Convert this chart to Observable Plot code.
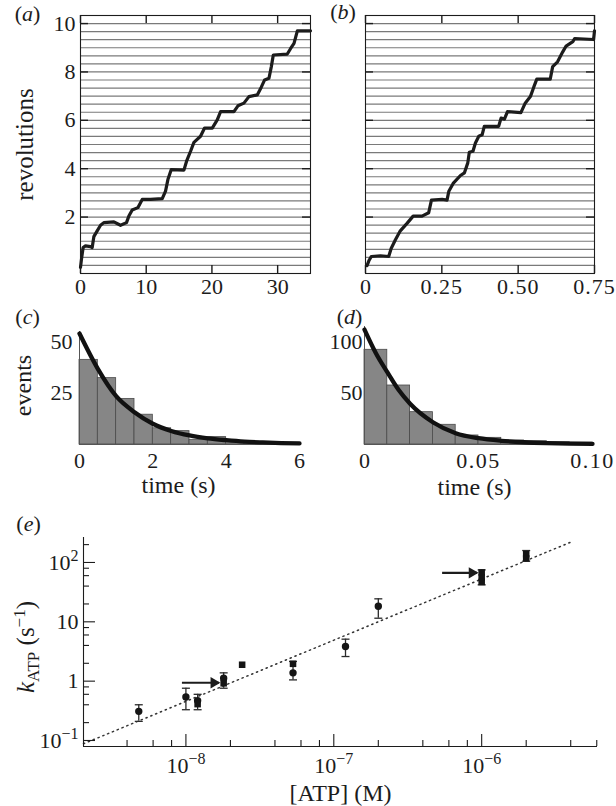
<!DOCTYPE html>
<html>
<head>
<meta charset="utf-8">
<script src="https://cdn.jsdelivr.net/npm/d3@7"></script>
<script src="https://cdn.jsdelivr.net/npm/@observablehq/plot@0.6"></script>
<style>
  html, body { margin: 0; padding: 0; background: #fff; }
  #fig { position: relative; width: 616px; height: 806px; overflow: hidden; background: #fff; }
</style>
</head>
<body>
<div id="fig"></div>
<script>
// ---------- Panel (a): rotation trace, low ATP ----------
const aTime = [0,0.15,0.4,0.76,1.52,1.78,2.03,2.54,3.05,3.55,5.08,6.09,7.0,7.36,7.87,8.73,9.39,10.66,12.44,12.94,13.3,13.8,15.74,16.14,16.75,17.26,18.27,18.88,20.05,20.81,21.32,23.35,23.96,24.87,25.63,26.9,27.51,28.02,28.68,29.04,29.34,31.47,31.98,32.49,33.0,35.0];
const aRev  = [-0.08,0.26,0.74,0.81,0.78,0.74,1.19,1.43,1.66,1.77,1.80,1.66,1.77,2.04,2.29,2.39,2.73,2.73,2.76,3.07,3.55,3.96,3.94,4.31,4.72,5.09,5.34,5.68,5.68,6.02,6.36,6.36,6.60,6.71,6.98,7.05,7.37,7.67,7.74,8.22,8.70,8.74,8.97,9.18,9.70,9.70];
const aXTicks = [0,10,20,30];

// ---------- Panel (b): rotation trace, higher ATP ----------
const bTime = [0.005,0.011,0.019,0.049,0.076,0.084,0.098,0.114,0.136,0.156,0.185,0.207,0.216,0.251,0.267,0.273,0.287,0.311,0.324,0.335,0.340,0.352,0.360,0.371,0.382,0.389,0.436,0.444,0.455,0.465,0.509,0.523,0.540,0.551,0.561,0.605,0.613,0.629,0.646,0.657,0.679,0.685,0.747,0.75];
const bRev  = [-0.01,0.19,0.37,0.40,0.37,0.70,1.06,1.43,1.74,2.04,2.04,2.18,2.70,2.73,2.70,3.07,3.39,3.72,3.83,4.24,4.68,4.72,5.06,5.34,5.40,5.75,5.75,6.09,6.05,6.36,6.32,6.71,6.98,7.37,7.70,7.70,8.22,8.42,8.83,9.07,9.25,9.38,9.34,9.70];
const bXTicks = [0,0.25,0.5,0.75];

const revTicks = [2,4,6,8,10];

// ---------- Panel (c): dwell-time histogram ----------
const cEdges  = [0,0.5,1,1.5,2,2.5,3,3.5,4,4.5,5,5.5,6];
const cCounts = [41.2,32.3,22.2,14.5,7.9,6.5,2.3,3.6,1.6,1.1,0.6,0.5];
const cFitT   = [0,0.5,1,1.5,2,2.5,3,3.5,4,4.5,5,5.5,6];
const cFitN   = [54,36.8,23.5,15.7,10.1,6.6,4.4,3.0,2.1,1.4,1.0,0.7,0.5];
const cXTicks = [0,2,4,6];
const cYTicks = [25,50];

// ---------- Panel (d): dwell-time histogram ----------
const dEdges  = [0,0.01,0.02,0.03,0.04,0.05,0.06,0.07,0.08,0.09,0.1];
const dCounts = [92.3,57.5,31.5,19.2,8.8,6.5,3.9,3.2,2.2,1.8];
const dFitT   = [0,0.005,0.01,0.015,0.02,0.03,0.04,0.05,0.06,0.07,0.08,0.09,0.1];
const dFitN   = [112,89,70.5,53,39.7,21.7,11,6.1,3.6,2.2,1.4,0.9,0.6];
const dXTicks = [0,0.05,0.1];
const dYTicks = [50,100];

// ---------- Panel (e): k_ATP vs [ATP] ----------
const atpConc = [4.8e-9,1.0e-8,1.2e-8,1.2e-8,1.8e-8,1.8e-8,2.4e-8,5.3e-8,5.3e-8,1.2e-7,2.0e-7,1.0e-6,1.0e-6,1.0e-6,2.0e-6,2.0e-6];
const kATP    = [0.31,0.54,0.47,0.41,1.12,0.92,1.89,1.96,1.38,3.84,18.3,68,56,47,138,117];
const kShape  = ["circle","circle","circle","square","circle","square","square","square","circle","circle","circle","square","square","square","square","square"];
const errConc = [4.8e-9,1.0e-8,1.2e-8,1.8e-8,5.3e-8,1.2e-7,2.0e-7,1.0e-6,2.0e-6];
const errLo   = [0.21,0.33,0.33,0.76,1.05,2.6,11.5,42,105];
const errHi   = [0.40,0.76,0.60,1.38,2.15,5.1,24.4,75,159];
const fitConc = [2.03e-9,4.0e-6];
const fitK    = [0.088,220];
const arrowFrom = [9.4e-9,5.4e-7];
const arrowTo   = [1.67e-8,9.3e-7];
const arrowK    = [0.94,67];
const eXMajor = [1e-8,1e-7,1e-6];
const eYMajor = [0.1,1,10,100];

// ---------- helpers ----------
const FONT = '"Liberation Serif", "Times New Roman", Times, serif';
const INK = "#1c1c1c";
const SVGNS = "http://www.w3.org/2000/svg";
const TITLE = 25;
const TICK = 22;
const fig = document.getElementById("fig");
const baseStyle = {fontFamily: FONT, fontSize: TICK + "px", background: "transparent", overflow: "visible", color: INK};

function place(svg, left, top) {
  svg.style.position = "absolute";
  svg.style.left = left + "px";
  svg.style.top = top + "px";
  svg.style.maxWidth = "none";
  fig.appendChild(svg);
  return svg;
}
function rich(el, parts) {
  while (el.firstChild) el.removeChild(el.firstChild);
  for (const p of parts) {
    const ts = document.createElementNS(SVGNS, "tspan");
    ts.textContent = p.t;
    if (p.italic) ts.setAttribute("font-style", "italic");
    if (p.size) ts.setAttribute("font-size", p.size);
    if (p.dy) ts.setAttribute("dy", p.dy);
    el.appendChild(ts);
  }
}
function polish(svg, decimalSpacing) {
  svg.querySelectorAll("text").forEach(el => {
    const s = el.textContent;
    let m;
    if ((m = s.match(/^\(([a-e])\)$/))) {
      rich(el, [{t: "("}, {t: m[1], italic: true}, {t: ")"}]);
    } else if ((m = s.match(/^(\d+)\^(-?\d+)$/))) {
      rich(el, [{t: m[1]}, {t: m[2].replace("-", "\u2212"), size: "16", dy: "-9"}]);
    } else if (s === "kATP (s-1)") {
      rich(el, [{t: "k", italic: true}, {t: "ATP", size: "17", dy: "5"}, {t: " (s", dy: "-5"},
                {t: "\u22121", size: "17", dy: "-9"}, {t: ")", dy: "9"}]);
    } else if (decimalSpacing && /^\d\.\d\d$/.test(s)) {
      el.style.letterSpacing = decimalSpacing;
    }
  });
}
const revGrid = d3.range(-1, 32).map(i => i / 3); // guide lines every 120° step
const revDomain = [-1/3, 31/3];

function tracePanel(o) {
  const iw = o.width - o.ml - o.mr, ih = o.height - o.mt - o.mb;
  const pts = o.time.map((t, i) => ({t, r: o.rev[i]}));
  const marks = [
    Plot.ruleY(revGrid, {stroke: "#7a7a7a", strokeWidth: 1.15}),
    Plot.line(pts, {x: "t", y: "r", stroke: INK, strokeWidth: 3.2, strokeLinejoin: "round", strokeLinecap: "round"}),
    Plot.frame({stroke: INK, strokeWidth: 1.1}),
    Plot.ruleY(revTicks, {insetRight: iw - 8, stroke: INK, strokeWidth: 1.4}),
    Plot.ruleY(revTicks, {insetLeft: iw - 8, stroke: INK, strokeWidth: 1.4}),
    Plot.ruleX(o.xTicks, {insetTop: ih - 8, stroke: INK, strokeWidth: 1.4}),
    Plot.ruleX(o.xTicks, {insetBottom: ih - 8, stroke: INK, strokeWidth: 1.4}),
    Plot.axisX({ticks: o.xTicks, tickFormat: o.xFormat, tickSize: 0, tickPadding: 5, label: null, fontSize: TICK, fill: INK}),
    Plot.text([o.letter], {text: d => d, frameAnchor: "top-left", textAnchor: "middle", lineAnchor: "middle", dx: o.ldx, dy: o.ldy, fontSize: TICK, fill: INK})
  ];
  if (o.yTitle) {
    marks.push(Plot.axisY({ticks: revTicks, tickSize: 0, tickPadding: 5, label: null, fontSize: TICK, fill: INK}));
    marks.push(Plot.text([o.yTitle], {text: d => d, frameAnchor: "left", textAnchor: "middle", lineAnchor: "middle", rotate: -90, dx: -56, fontSize: TITLE, fill: INK}));
  }
  const yOpts = {domain: revDomain};
  if (!o.yTitle) yOpts.axis = null;
  const svg = Plot.plot({
    width: o.width, height: o.height,
    marginLeft: o.ml, marginRight: o.mr, marginTop: o.mt, marginBottom: o.mb,
    style: baseStyle,
    x: {domain: o.xDomain},
    y: yOpts,
    marks
  });
  polish(svg, o.spacing);
  return place(svg, o.left, o.top);
}

function histPanel(o) {
  const bins = o.counts.map((n, i) => ({x1: o.edges[i], x2: o.edges[i + 1], n}));
  const fit = o.fitT.map((t, i) => ({t, n: o.fitN[i]}));
  const marks = [
    Plot.rectY(bins, {x1: "x1", x2: "x2", y: "n", fill: "#868686", stroke: "#4a4a4a", strokeWidth: 0.8}),
    Plot.ruleY([0], {stroke: "#555", strokeWidth: 1}),
    Plot.ruleX([0], {stroke: "#555", strokeWidth: 1}),
    Plot.line(fit, {x: "t", y: "n", stroke: "#111", strokeWidth: 4.3, curve: "monotone-x"}),
    Plot.axisX({ticks: o.xTicks, tickFormat: o.xFormat, tickSize: 0, tickPadding: 8, label: null, fontSize: TICK, fill: INK}),
    Plot.axisY({ticks: o.yTicks, tickSize: 0, tickPadding: o.ytp, label: null, fontSize: TICK, fill: INK}),
    Plot.text(["time (s)"], {text: d => d, frameAnchor: "bottom", textAnchor: "middle", lineAnchor: "middle", dx: o.tdx, dy: o.tdy, fontSize: TITLE - 1, fill: INK}),
    Plot.text([o.letter], {text: d => d, frameAnchor: "top-left", textAnchor: "middle", lineAnchor: "middle", dx: o.ldx, dy: o.ldy, fontSize: TICK, fill: INK})
  ];
  if (o.yTitle) marks.push(Plot.text([o.yTitle], {text: d => d, frameAnchor: "left", textAnchor: "middle", lineAnchor: "middle", rotate: -90, dx: -56, dy: -2.5, fontSize: TITLE - 1, fill: INK}));
  const svg = Plot.plot({
    width: o.width, height: o.height,
    marginLeft: o.ml, marginRight: o.mr, marginTop: o.mt, marginBottom: o.mb,
    style: baseStyle,
    x: {domain: o.xDomain},
    y: {domain: o.yDomain},
    marks
  });
  polish(svg, o.spacing);
  return place(svg, o.left, o.top);
}

// ---------- draw (a) and (b) ----------
tracePanel({time: aTime, rev: aRev, xDomain: [0, 35], xTicks: aXTicks, xFormat: d => String(d),
  width: 316, height: 300, ml: 80, mr: 6, mt: 15, mb: 27, left: 0, top: 0,
  letter: "(a)", ldx: -53, ldy: -2, yTitle: "revolutions", spacing: null});
tracePanel({time: bTime, rev: bRev, xDomain: [0, 0.75], xTicks: bXTicks, xFormat: d => d === 0 ? "0" : d.toFixed(2),
  width: 300, height: 300, ml: 49, mr: 22, mt: 15, mb: 27, left: 316, top: 0,
  letter: "(b)", ldx: -22.5, ldy: -4, yTitle: null, spacing: "1px"});

// ---------- draw (c) and (d) ----------
histPanel({edges: cEdges, counts: cCounts, fitT: cFitT, fitN: cFitN, xTicks: cXTicks, yTicks: cYTicks,
  xFormat: d => String(d), xDomain: [0, 6], yDomain: [0, 55],
  width: 316, height: 200, ml: 79, mr: 17, mt: 31, mb: 56, left: 0, top: 300, ytp: 7,
  tdx: -11, tdy: 41, letter: "(c)", ldx: -52, ldy: -15, yTitle: "events", spacing: null});
histPanel({edges: dEdges, counts: dCounts, fitT: dFitT, fitN: dFitN, xTicks: dXTicks, yTicks: dYTicks,
  xFormat: d => d === 0 ? "0" : d.toFixed(2), xDomain: [0, 0.1], yDomain: [0, 115],
  width: 300, height: 200, ml: 48, mr: 24, mt: 26, mb: 56, left: 316, top: 300, ytp: 2,
  tdx: -4, tdy: 43, letter: "(d)", ldx: -15, ldy: -10, yTitle: null, spacing: "1.5px"});

// ---------- draw (e) ----------
(function () {
  const W = 616, H = 306, ML = 83, MR = 19, MT = 37, MB = 60;
  const iw = W - ML - MR, ih = H - MT - MB;
  const xDomain = [2.03e-9, 6.07e-6], yDomain = [0.0792, 263.6];
  const mult = [2, 4, 6, 8];
  const xMinor = [1e-9, 1e-8, 1e-7, 1e-6].flatMap(d => mult.map(m => m * d)).filter(v => v > xDomain[0] * 1.02 && v < xDomain[1]);
  const yMinor = [0.1, 1, 10, 100].flatMap(d => mult.map(m => m * d)).filter(v => v > yDomain[0] * 1.05 && v < yDomain[1]);
  const pts = atpConc.map((c, i) => ({c, k: kATP[i], s: kShape[i]}));
  const errs = errConc.map((c, i) => ({c, lo: errLo[i], hi: errHi[i]}));
  const fit = fitConc.map((c, i) => ({c, k: fitK[i]}));
  const arrows = arrowFrom.map((x1, i) => ({x1, x2: arrowTo[i], k: arrowK[i]}));
  const cap = {draw(ctx, size) { const w = Math.sqrt(size / Math.PI); ctx.moveTo(-w, 0); ctx.lineTo(w, 0); }};
  const xFmt = d => "10^" + Math.round(Math.log10(d));
  const yFmt = d => d === 1 ? "1" : d === 10 ? "10" : "10^" + Math.round(Math.log10(d));
  const svg = Plot.plot({
    width: W, height: H, marginLeft: ML, marginRight: MR, marginTop: MT, marginBottom: MB,
    style: baseStyle,
    x: {type: "log", domain: xDomain},
    y: {type: "log", domain: yDomain},
    marks: [
      Plot.line(fit, {x: "c", y: "k", stroke: "#333", strokeWidth: 1.5, strokeDasharray: "1.3 3.9"}),
      Plot.ruleX(errs, {x: "c", y1: "lo", y2: "hi", stroke: "#2a2a2a", strokeWidth: 1.3}),
      Plot.dot(errs, {x: "c", y: "lo", symbol: cap, r: 4, fill: "none", stroke: "#2a2a2a", strokeWidth: 1.3}),
      Plot.dot(errs, {x: "c", y: "hi", symbol: cap, r: 4, fill: "none", stroke: "#2a2a2a", strokeWidth: 1.3}),
      Plot.dot(pts, {x: "c", y: "k", symbol: "s", r: 3.7, fill: "#151515", stroke: "none"}),
      Plot.link(arrows, {x1: "x1", x2: "x2", y1: "k", y2: "k", stroke: INK, strokeWidth: 2.2}),
      Plot.dot(arrows, {x: "x2", y: "k", symbol: "triangle", rotate: 90, r: 4.2, fill: INK, dx: -5}),
      Plot.ruleY([yDomain[0]], {stroke: INK, strokeWidth: 1.1}),
      Plot.ruleX([xDomain[0]], {stroke: INK, strokeWidth: 1.1}),
      Plot.ruleX(eXMajor, {insetTop: ih - 12, stroke: INK, strokeWidth: 1.1}),
      Plot.ruleX(xMinor, {insetTop: ih - 6, stroke: INK, strokeWidth: 1.1}),
      Plot.ruleY(eYMajor, {insetRight: iw - 12, stroke: INK, strokeWidth: 1.1}),
      Plot.ruleY(yMinor, {insetRight: iw - 6, stroke: INK, strokeWidth: 1.1}),
      Plot.axisX({ticks: eXMajor, tickFormat: xFmt, tickSize: 0, tickPadding: 11, label: null, fontSize: TICK, fill: INK}),
      Plot.axisY({ticks: eYMajor, tickFormat: yFmt, tickSize: 0, tickPadding: 5, label: null, fontSize: TICK, fill: INK}),
      Plot.text(["kATP (s-1)"], {text: d => d, frameAnchor: "left", textAnchor: "middle", lineAnchor: "middle", rotate: -90, dx: -58, dy: 5, fontSize: TITLE, fill: INK}),
      Plot.text(["[ATP] (M)"], {text: d => d, frameAnchor: "bottom", textAnchor: "middle", lineAnchor: "middle", dy: 47, fontSize: TITLE - 1, fill: INK}),
      Plot.text(["(e)"], {text: d => d, frameAnchor: "top-left", textAnchor: "middle", lineAnchor: "middle", dx: -55, dy: -14, fontSize: TICK, fill: INK})
    ]
  });
  polish(svg, null);
  place(svg, 0, 500);
})();
</script>
</body>
</html>
